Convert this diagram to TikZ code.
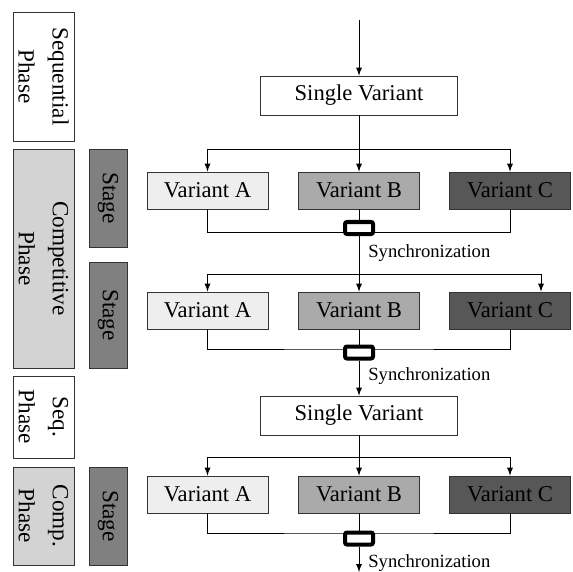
\documentclass[tikz,border=0pt]{standalone}
\usepackage{fontspec}
\setmainfont{Liberation Serif}
\usepackage{tikz}
\usetikzlibrary{positioning}
\definecolor{varA}{HTML}{EEEEEE}
\definecolor{varB}{HTML}{AAAAAA}
\definecolor{varC}{HTML}{575757}
\definecolor{phasegray}{HTML}{D3D3D3}
\definecolor{stagegray}{HTML}{808080}
\definecolor{edge}{HTML}{333333}

\begin{document}
\begin{tikzpicture}[>=latex, x=0.5pt, y=-0.5pt,
		box/.style={draw=edge, inner sep=0pt, font=\fontsize{11.3}{13}\selectfont},
		variant/.style={box, minimum width=60.5pt, minimum height=18.5pt},
		single/.style={box, fill=white, minimum width=98.5pt, minimum height=19.5pt},
		phase/.style={box, rotate=-90, align=center, minimum height=30.5pt, font=\fontsize{11.6}{17}\selectfont},
		stagebox/.style={box, rotate=-90, fill=stagegray, minimum height=19pt, font=\fontsize{11.6}{13}\selectfont},
		sync/.style={draw=black, line width=2pt, rounded corners=1pt, fill=white, minimum width=14pt, minimum height=6pt, inner sep=0pt},
		synclabel/.style={anchor=west, inner sep=0pt, font=\fontsize{9.3}{11}\selectfont}]
		\useasboundingbox (0,0) rectangle (572,572);
		% phases and stages
		\node[phase, minimum width=64.5pt, fill=white] (seq1) at (43.5,76.5) {Sequential\\Phase};
		\node[phase, minimum width=109.5pt, fill=phasegray] (comp1) at (43.5,258.5) {Competitive\\Phase};
		\node[phase, minimum width=41pt, fill=white] (seq2) at (43.5,417) {Seq.\\Phase};
		\node[phase, minimum width=49pt, fill=phasegray] (comp2) at (43.5,516) {Comp.\\Phase};
		\node[stagebox, minimum width=49pt] (stage1) at (108,198) {Stage};
		\node[stagebox, minimum width=53pt] (stage2) at (108,315) {Stage};
		\node[stagebox, minimum width=49pt] (stage3) at (108,516) {Stage};
		% variants
		\node[single] (sv1) at (359,95.5) {Single Variant};
		\node[variant, fill=varA] (vA1) at (207.5,190.5) {Variant A};
		\node[variant, fill=varB] (vB1) at (359,190.5) {Variant B};
		\node[variant, fill=varC] (vC1) at (510,190.5) {Variant C};
		\node[variant, fill=varA] (vA2) at (207.5,310.5) {Variant A};
		\node[variant, fill=varB] (vB2) at (359,310.5) {Variant B};
		\node[variant, fill=varC] (vC2) at (510,310.5) {Variant C};
		\node[single] (sv2) at (359,415.5) {Single Variant};
		\node[variant, fill=varA] (vA3) at (207.5,494.5) {Variant A};
		\node[variant, fill=varB] (vB3) at (359,494.5) {Variant B};
		\node[variant, fill=varC] (vC3) at (510,494.5) {Variant C};
		% branch and merge points
		\coordinate (start) at (359,20);
		\coordinate (b1) at (359,149);
		\coordinate (m1) at (359,232.5);
		\coordinate (b2) at (359,274);
		\coordinate (m2) at (359,349);
		\coordinate (b3) at (359,457);
		\coordinate (m3) at (359,533);
		\coordinate (end) at (359,572);
		\coordinate (c2) at ([xshift=15.5pt]vC2.north);
		% first stage
		\draw[->] (start) -- (sv1);
		\draw (sv1) -- (b1);
		\draw[->] (b1) -| (vA1);
		\draw[->] (b1) -| (vC1);
		\draw[->] (b1) -- (vB1);
		\draw (vA1) |- (m1) -| (vC1);
		\draw (vB1) -- (m1);
		\node[sync] (s1) at (359,228) {};
		\draw (s1) -- (b2);
		\node[synclabel] (l1) at (368,253) {Synchronization};
		% second stage
		\draw[->] (b2) -| (vA2);
		\draw[->] (b2) -| (c2);
		\draw[->] (b2) -- (vB2);
		\draw (vA2) |- (m2) -| (vC2);
		\draw (vB2) -- (m2);
		\node[sync] (s2) at (359,352.5) {};
		\draw[->] (s2) -- (sv2);
		\node[synclabel] (l2) at (368,376) {Synchronization};
		% third stage
		\draw (sv2) -- (b3);
		\draw[->] (b3) -| (vA3);
		\draw[->] (b3) -| (vC3);
		\draw[->] (b3) -- (vB3);
		\draw (vA3) |- (m3) -| (vC3);
		\draw (vB3) -- (m3);
		\node[sync] (s3) at (359,538.5) {};
		\draw[->] (s3) -- (end);
		\node[synclabel] (l3) at (368,563) {Synchronization};
	\end{tikzpicture}
\end{document}
